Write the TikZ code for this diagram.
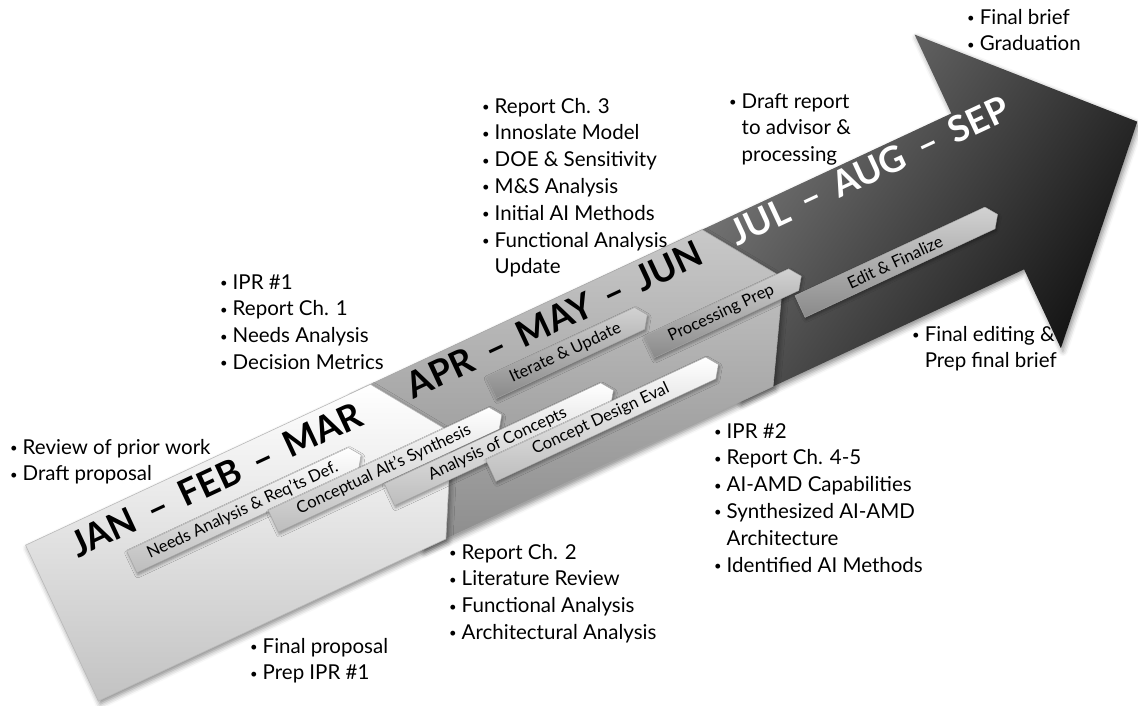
\documentclass[tikz,border=0pt]{standalone}
\usepackage{fontspec}
\setmainfont{Lato}
\usetikzlibrary{shapes.symbols, shadows.blur}
\definecolor{paleend}{HTML}{C2C2C2}
\definecolor{midtop}{HTML}{C8C8C8}
\definecolor{midend}{HTML}{8C8C8C}
\definecolor{darktop}{HTML}{808080}
\definecolor{darkend}{HTML}{121212}
\definecolor{chevlow}{HTML}{BDBDBD}
\definecolor{chevgray}{HTML}{D2D2D2}
\definecolor{chevdeep}{HTML}{8A8A8A}
\newcommand{\monthgap}{\hspace{.42em}–\hspace{.42em}}
\newcommand{\dotitem}{\raisebox{1.5pt}{\fontsize{13}{13}\selectfont\textbullet}}
\tikzset{
	panel/.style={line width=0.6pt, shading angle=25,
		blur shadow={shadow xshift=2pt, shadow yshift=-3pt, shadow blur radius=5pt, shadow opacity=45}},
	task/.style={shape=signal, signal to=east, signal pointer angle=110, transform shape,
		draw=gray!70, line width=0.4pt, minimum height=24pt, inner sep=1pt,
		top color=white, bottom color=chevlow, font=\fontsize{16.5}{18}\selectfont,
		blur shadow={shadow xshift=1pt, shadow yshift=-2pt, shadow blur radius=3pt, shadow opacity=40}},
	darktask/.style={top color=chevgray, bottom color=chevdeep},
	month/.style={anchor=base, transform shape, font=\fontsize{36}{40}\selectfont\bfseries},
	notes/.style={anchor=base west, inner sep=0pt, font=\fontsize{20.5}{26.8}\selectfont}
}

\begin{document}
\begin{tikzpicture}[x=1pt, y=-1pt]
\useasboundingbox (0,0) rectangle (1138,705);

\begin{scope}[shift={(250,535.4)}, rotate=25]
% panels of the big arrow, back to front
\path[panel, top color=darktop, bottom color=darkend, shading angle=55]
  (500,-86) -- (814,-86) -- (814,-173) -- (979,0) -- (814,173) -- (814,86) -- (500,86) -- cycle;
\path[panel, draw=gray!70, top color=midtop, bottom color=midend]
  (150,-86) -- (539,-86) -- (592,-8) -- (537,86) -- (150,86) -- cycle;
\path[panel, draw=gray!55, top color=white, bottom color=paleend]
  (-207.5,-86) -- (173,-86) -- (226,-8) -- (176,86) -- (-207.5,86) -- cycle;

\node[month] (q1) at (-7,-52) {JAN\monthgap FEB\monthgap MAR};
\node[month] (q2) at (367,-54) {APR\monthgap MAY\monthgap JUN};
\node[month, text=white] (q3) at (716,-56) {JUL\monthgap AUG\monthgap SEP};

\node[task, minimum width=253pt] (needs) at (4,-26) {Needs Analysis \& Req’ts Def.};
\node[task, minimum width=252pt] (altsyn) at (149,-3) {Conceptual Alt’s Synthesis};
\node[task, minimum width=247pt] (concepts) at (263,22) {Analysis of Concepts};
\node[task, minimum width=251pt] (designeval) at (367,43) {Concept Design Eval};
\node[task, darktask, minimum width=172pt] (iterate) at (363,-32) {Iterate \& Update};
\node[task, darktask, minimum width=168pt] (procprep) at (521,-2) {Processing Prep};
\node[task, darktask, minimum width=218pt] (finalize) at (700,25) {Edit \& Finalize};
\end{scope}

\node[notes] (prior) at (10,454) {\begin{tabular}[t]{@{}l@{\hspace{5pt}}l@{}}
\dotitem & Review of prior work \\
\dotitem & Draft proposal
\end{tabular}};

\node[notes] (ipr1) at (220,289) {\begin{tabular}[t]{@{}l@{\hspace{5pt}}l@{}}
\dotitem & IPR \#1 \\
\dotitem & Report Ch. 1 \\
\dotitem & Needs Analysis \\
\dotitem & Decision Metrics
\end{tabular}};

\node[notes] (ch3) at (482,113) {\begin{tabular}[t]{@{}l@{\hspace{5pt}}l@{}}
\dotitem & Report Ch. 3 \\
\dotitem & Innoslate Model \\
\dotitem & DOE \& Sensitivity \\
\dotitem & M\&S Analysis \\
\dotitem & Initial AI Methods \\
\dotitem & Functional Analysis \\
 & Update
\end{tabular}};

\node[notes] (draft) at (729,108) {\begin{tabular}[t]{@{}l@{\hspace{5pt}}l@{}}
\dotitem & Draft report \\
 & to advisor \& \\
 & processing
\end{tabular}};

\node[notes] (grad) at (967,24) {\begin{tabular}[t]{@{}l@{\hspace{5pt}}l@{}}
\dotitem & Final brief \\
\dotitem & Graduation
\end{tabular}};

\node[notes] (editing) at (912,341) {\begin{tabular}[t]{@{}l@{\hspace{5pt}}l@{}}
\dotitem & Final editing \& \\
 & Prep final brief
\end{tabular}};

\node[notes] (ipr2) at (714,438) {\begin{tabular}[t]{@{}l@{\hspace{5pt}}l@{}}
\dotitem & IPR \#2 \\
\dotitem & Report Ch. 4-5 \\
\dotitem & AI-AMD Capabilities \\
\dotitem & Synthesized AI-AMD \\
 & Architecture \\
\dotitem & Identified AI Methods
\end{tabular}};

\node[notes] (ch2) at (449,559) {\begin{tabular}[t]{@{}l@{\hspace{5pt}}l@{}}
\dotitem & Report Ch. 2 \\
\dotitem & Literature Review \\
\dotitem & Functional Analysis \\
\dotitem & Architectural Analysis
\end{tabular}};

\node[notes] (proposal) at (250,653) {\begin{tabular}[t]{@{}l@{\hspace{5pt}}l@{}}
\dotitem & Final proposal \\
\dotitem & Prep IPR \#1
\end{tabular}};
\end{tikzpicture}
\end{document}
